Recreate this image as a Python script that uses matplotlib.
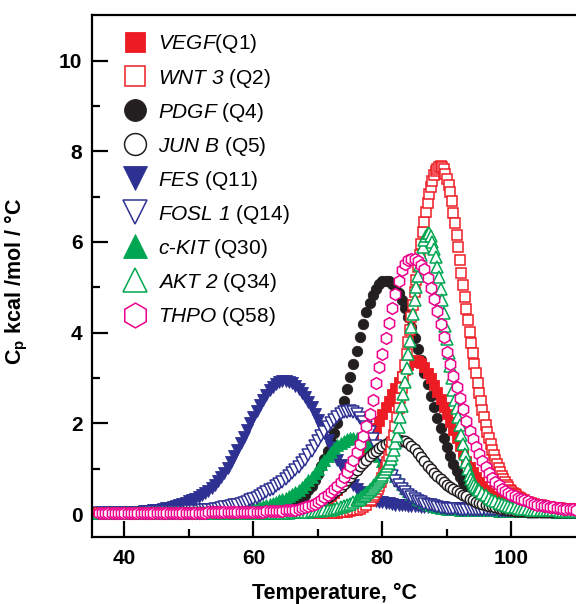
import numpy as np
import matplotlib.pyplot as plt
from matplotlib.ticker import FixedLocator

plt.rcParams['font.family'] = 'Liberation Sans'
plt.rcParams['mathtext.fontset'] = 'custom'
# gene names are set in italics incl. their digits, so rm maps to the italic face
plt.rcParams['mathtext.rm'] = 'Liberation Sans:italic'
plt.rcParams['mathtext.it'] = 'Liberation Sans:italic'
plt.rcParams['mathtext.bf'] = 'Liberation Sans:bold'

# temperature grid of the DSC scans (deg C), 0.5 deg steps 36 .. 110
temp = np.arange(36.0, 110.01, 0.5)
# WNT 3 and AKT 2 melt sharply and were sampled twice as fine around the peak,
# these are the extra in-between temperatures
wnt3_temp_mid = np.arange(78.25, 101.76, 0.5)
akt2_temp_mid = np.arange(76.25, 94.76, 0.5)

# Cp (kcal/mol/C), one row = 5 deg
vegf = [
    0.03, 0.03, 0.03, 0.03, 0.03, 0.03, 0.03, 0.03, 0.03, 0.03,
    0.03, 0.03, 0.03, 0.03, 0.03, 0.03, 0.03, 0.03, 0.03, 0.03,
    0.03, 0.03, 0.03, 0.03, 0.03, 0.03, 0.03, 0.03, 0.03, 0.03,
    0.03, 0.03, 0.03, 0.03, 0.03, 0.03, 0.03, 0.03, 0.03, 0.03,
    0.03, 0.03, 0.03, 0.03, 0.03, 0.04, 0.04, 0.04, 0.04, 0.04,
    0.04, 0.04, 0.04, 0.04, 0.04, 0.05, 0.05, 0.05, 0.05, 0.06,
    0.06, 0.07, 0.08, 0.09, 0.11, 0.13, 0.15, 0.18, 0.21, 0.25,
    0.29, 0.34, 0.40, 0.47, 0.54, 0.62, 0.70, 0.79, 0.88, 0.98,
    1.08, 1.20, 1.32, 1.47, 1.62, 1.76, 1.90, 2.05, 2.20, 2.35,
    2.50, 2.64, 2.78, 2.92, 3.05, 3.17, 3.28, 3.36, 3.40, 3.38,
    3.33, 3.24, 3.12, 2.99, 2.85, 2.70, 2.53, 2.37, 2.20, 2.03,
    1.85, 1.67, 1.50, 1.34, 1.18, 1.04, 0.92, 0.81, 0.70, 0.61,
    0.53, 0.46, 0.40, 0.35, 0.30, 0.26, 0.22, 0.19, 0.16, 0.14,
    0.12, 0.10, 0.09, 0.08, 0.07, 0.07, 0.06, 0.06, 0.05, 0.05,
    0.05, 0.05, 0.05, 0.05, 0.05, 0.05, 0.05, 0.05, 0.05]

wnt3 = [
    0.03, 0.03, 0.03, 0.03, 0.03, 0.03, 0.03, 0.03, 0.03, 0.03,
    0.03, 0.03, 0.03, 0.03, 0.03, 0.03, 0.03, 0.03, 0.03, 0.03,
    0.03, 0.03, 0.03, 0.03, 0.03, 0.03, 0.03, 0.03, 0.03, 0.03,
    0.03, 0.03, 0.03, 0.03, 0.03, 0.03, 0.03, 0.03, 0.03, 0.03,
    0.03, 0.03, 0.03, 0.03, 0.03, 0.03, 0.03, 0.03, 0.03, 0.03,
    0.03, 0.03, 0.03, 0.03, 0.03, 0.03, 0.03, 0.03, 0.03, 0.03,
    0.03, 0.03, 0.03, 0.03, 0.03, 0.03, 0.03, 0.03, 0.03, 0.03,
    0.03, 0.03, 0.03, 0.03, 0.03, 0.04, 0.04, 0.05, 0.06, 0.08,
    0.09, 0.12, 0.16, 0.21, 0.28, 0.37, 0.48, 0.62, 0.80, 1.02,
    1.28, 1.58, 1.94, 2.34, 2.79, 3.28, 3.80, 4.34, 4.89, 5.44,
    5.96, 6.44, 6.86, 7.21, 7.47, 7.62, 7.68, 7.60, 7.40, 7.10,
    6.65, 6.15, 5.60, 5.05, 4.52, 4.02, 3.55, 3.10, 2.68, 2.30,
    1.96, 1.67, 1.42, 1.20, 1.01, 0.84, 0.70, 0.59, 0.50, 0.44,
    0.38, 0.34, 0.30, 0.27, 0.24, 0.22, 0.20, 0.19, 0.17, 0.16,
    0.15, 0.14, 0.13, 0.13, 0.12, 0.12, 0.11, 0.11, 0.10]
wnt3_mid = [
    0.32, 0.42, 0.55, 0.70, 0.90, 1.14, 1.42, 1.75, 2.13, 2.56,
    3.03, 3.54, 4.07, 4.62, 5.17, 5.71, 6.21, 6.66, 7.05, 7.35,
    7.56, 7.66, 7.65, 7.50, 7.25, 6.90, 6.41, 5.88, 5.32, 4.78,
    4.27, 3.78, 3.32, 2.89, 2.49, 2.13, 1.81, 1.54, 1.31, 1.10,
    0.92, 0.77, 0.64, 0.54, 0.47, 0.41, 0.36, 0.32]

pdgf = [
    0.03, 0.03, 0.03, 0.03, 0.03, 0.03, 0.03, 0.03, 0.03, 0.03,
    0.03, 0.03, 0.03, 0.03, 0.03, 0.03, 0.03, 0.03, 0.03, 0.03,
    0.03, 0.03, 0.03, 0.03, 0.03, 0.03, 0.03, 0.03, 0.03, 0.03,
    0.03, 0.03, 0.03, 0.03, 0.03, 0.03, 0.03, 0.03, 0.03, 0.03,
    0.03, 0.03, 0.03, 0.03, 0.03, 0.03, 0.03, 0.03, 0.03, 0.03,
    0.03, 0.03, 0.03, 0.04, 0.05, 0.06, 0.07, 0.09, 0.11, 0.14,
    0.18, 0.23, 0.28, 0.35, 0.43, 0.52, 0.62, 0.75, 0.89, 1.05,
    1.22, 1.40, 1.58, 1.78, 2.00, 2.24, 2.49, 2.75, 3.02, 3.30,
    3.60, 3.90, 4.20, 4.46, 4.66, 4.83, 4.97, 5.07, 5.13, 5.15,
    5.13, 5.08, 5.00, 4.88, 4.73, 4.55, 4.34, 4.12, 3.89, 3.65,
    3.40, 3.12, 2.86, 2.60, 2.36, 2.12, 1.89, 1.68, 1.47, 1.28,
    1.11, 0.96, 0.82, 0.70, 0.62, 0.53, 0.46, 0.39, 0.34, 0.29,
    0.25, 0.22, 0.19, 0.17, 0.15, 0.13, 0.12, 0.11, 0.10, 0.09,
    0.08, 0.08, 0.07, 0.07, 0.06, 0.06, 0.06, 0.05, 0.05, 0.05,
    0.05, 0.05, 0.05, 0.05, 0.05, 0.05, 0.05, 0.05, 0.05]

junb = [
    0.03, 0.03, 0.03, 0.03, 0.03, 0.03, 0.03, 0.03, 0.03, 0.03,
    0.03, 0.03, 0.03, 0.03, 0.03, 0.03, 0.03, 0.03, 0.03, 0.03,
    0.03, 0.03, 0.03, 0.03, 0.03, 0.03, 0.03, 0.03, 0.03, 0.03,
    0.03, 0.03, 0.03, 0.03, 0.03, 0.03, 0.03, 0.03, 0.03, 0.03,
    0.03, 0.03, 0.03, 0.03, 0.03, 0.03, 0.03, 0.03, 0.03, 0.03,
    0.03, 0.03, 0.03, 0.03, 0.03, 0.03, 0.03, 0.04, 0.05, 0.05,
    0.06, 0.07, 0.09, 0.11, 0.13, 0.15, 0.18, 0.21, 0.24, 0.28,
    0.32, 0.37, 0.42, 0.48, 0.54, 0.60, 0.67, 0.75, 0.82, 0.90,
    0.97, 1.05, 1.13, 1.20, 1.27, 1.34, 1.40, 1.46, 1.51, 1.55,
    1.59, 1.61, 1.63, 1.63, 1.62, 1.60, 1.56, 1.50, 1.43, 1.35,
    1.26, 1.16, 1.07, 0.99, 0.91, 0.84, 0.77, 0.71, 0.65, 0.60,
    0.55, 0.51, 0.47, 0.43, 0.39, 0.34, 0.30, 0.27, 0.24, 0.22,
    0.20, 0.18, 0.17, 0.16, 0.14, 0.12, 0.11, 0.09, 0.08, 0.07,
    0.07, 0.06, 0.06, 0.05, 0.05, 0.05, 0.05, 0.05, 0.04, 0.04,
    0.04, 0.04, 0.04, 0.04, 0.04, 0.04, 0.04, 0.04, 0.04]

fes = [
    0.03, 0.03, 0.03, 0.03, 0.03, 0.03, 0.03, 0.03, 0.03, 0.03,
    0.04, 0.04, 0.05, 0.05, 0.06, 0.06, 0.07, 0.08, 0.09, 0.10,
    0.11, 0.13, 0.14, 0.16, 0.18, 0.20, 0.22, 0.25, 0.28, 0.31,
    0.34, 0.38, 0.42, 0.46, 0.51, 0.57, 0.64, 0.72, 0.81, 0.91,
    1.02, 1.14, 1.27, 1.41, 1.56, 1.70, 1.85, 2.00, 2.14, 2.28,
    2.41, 2.52, 2.63, 2.73, 2.81, 2.87, 2.91, 2.93, 2.93, 2.91,
    2.88, 2.83, 2.76, 2.68, 2.58, 2.47, 2.35, 2.21, 2.07, 1.93,
    1.78, 1.63, 1.48, 1.34, 1.20, 1.08, 0.95, 0.84, 0.73, 0.64,
    0.56, 0.49, 0.43, 0.38, 0.34, 0.31, 0.29, 0.27, 0.26, 0.25,
    0.24, 0.23, 0.21, 0.20, 0.19, 0.19, 0.18, 0.18, 0.17, 0.17,
    0.16, 0.16, 0.16, 0.15, 0.15, 0.15, 0.15, 0.14, 0.14, 0.14,
    0.14, 0.14, 0.13, 0.13, 0.13, 0.13, 0.13, 0.12, 0.12, 0.12,
    0.12, 0.12, 0.12, 0.12, 0.11, 0.11, 0.11, 0.11, 0.11, 0.11,
    0.11, 0.10, 0.10, 0.10, 0.10, 0.10, 0.10, 0.10, 0.10, 0.10,
    0.10, 0.10, 0.09, 0.09, 0.09, 0.09, 0.09, 0.09, 0.09]

fosl1 = [
    0.03, 0.03, 0.03, 0.03, 0.03, 0.03, 0.03, 0.03, 0.03, 0.03,
    0.03, 0.03, 0.03, 0.03, 0.03, 0.03, 0.04, 0.04, 0.04, 0.04,
    0.04, 0.04, 0.045, 0.045, 0.05, 0.05, 0.055, 0.055, 0.06, 0.065,
    0.07, 0.075, 0.08, 0.085, 0.09, 0.10, 0.11, 0.12, 0.13, 0.145,
    0.16, 0.175, 0.19, 0.21, 0.23, 0.25, 0.27, 0.30, 0.33, 0.36,
    0.40, 0.44, 0.48, 0.52, 0.56, 0.61, 0.66, 0.71, 0.77, 0.83,
    0.90, 0.97, 1.04, 1.12, 1.20, 1.30, 1.40, 1.50, 1.61, 1.72,
    1.82, 1.91, 2.00, 2.08, 2.15, 2.20, 2.24, 2.26, 2.27, 2.25,
    2.20, 2.12, 2.03, 1.92, 1.80, 1.66, 1.51, 1.36, 1.21, 1.07,
    0.94, 0.83, 0.72, 0.63, 0.55, 0.48, 0.42, 0.37, 0.33, 0.29,
    0.26, 0.23, 0.21, 0.19, 0.17, 0.155, 0.14, 0.13, 0.12, 0.115,
    0.11, 0.105, 0.10, 0.10, 0.10, 0.095, 0.09, 0.09, 0.085, 0.085,
    0.08, 0.08, 0.08, 0.08, 0.075, 0.075, 0.075, 0.07, 0.07, 0.07,
    0.07, 0.07, 0.065, 0.065, 0.065, 0.065, 0.06, 0.06, 0.06, 0.06,
    0.06, 0.06, 0.055, 0.055, 0.055, 0.05, 0.05, 0.05, 0.05]

ckit = [
    0.03, 0.03, 0.03, 0.03, 0.03, 0.03, 0.03, 0.03, 0.03, 0.03,
    0.03, 0.03, 0.03, 0.03, 0.03, 0.03, 0.03, 0.03, 0.03, 0.03,
    0.03, 0.03, 0.03, 0.03, 0.035, 0.035, 0.035, 0.035, 0.035, 0.035,
    0.04, 0.04, 0.04, 0.04, 0.045, 0.045, 0.05, 0.05, 0.055, 0.055,
    0.06, 0.065, 0.07, 0.08, 0.09, 0.10, 0.11, 0.12, 0.13, 0.145,
    0.16, 0.18, 0.20, 0.22, 0.25, 0.27, 0.30, 0.33, 0.36, 0.40,
    0.44, 0.48, 0.54, 0.60, 0.67, 0.74, 0.82, 0.90, 1.00, 1.10,
    1.19, 1.28, 1.37, 1.45, 1.52, 1.57, 1.61, 1.65, 1.67, 1.68,
    1.68, 1.67, 1.63, 1.57, 1.50, 1.42, 1.35, 1.27, 1.18, 1.09,
    1.00, 0.92, 0.84, 0.75, 0.66, 0.58, 0.50, 0.44, 0.39, 0.34,
    0.30, 0.26, 0.23, 0.20, 0.18, 0.16, 0.14, 0.13, 0.12, 0.115,
    0.11, 0.105, 0.10, 0.095, 0.09, 0.09, 0.09, 0.09, 0.085, 0.085,
    0.08, 0.08, 0.08, 0.08, 0.075, 0.075, 0.075, 0.075, 0.07, 0.07,
    0.07, 0.07, 0.065, 0.065, 0.065, 0.065, 0.06, 0.06, 0.06, 0.06,
    0.06, 0.06, 0.055, 0.055, 0.055, 0.05, 0.05, 0.05, 0.05]

akt2 = [
    0.03, 0.03, 0.03, 0.03, 0.03, 0.03, 0.03, 0.03, 0.03, 0.03,
    0.03, 0.03, 0.03, 0.03, 0.03, 0.03, 0.03, 0.03, 0.03, 0.03,
    0.03, 0.03, 0.03, 0.03, 0.03, 0.03, 0.03, 0.03, 0.03, 0.03,
    0.03, 0.03, 0.03, 0.03, 0.03, 0.03, 0.03, 0.03, 0.03, 0.03,
    0.03, 0.03, 0.03, 0.03, 0.03, 0.03, 0.03, 0.03, 0.03, 0.03,
    0.03, 0.03, 0.03, 0.03, 0.03, 0.03, 0.03, 0.03, 0.03, 0.03,
    0.04, 0.04, 0.04, 0.04, 0.05, 0.05, 0.06, 0.06, 0.07, 0.07,
    0.08, 0.09, 0.10, 0.11, 0.13, 0.15, 0.17, 0.20, 0.23, 0.26,
    0.30, 0.34, 0.40, 0.46, 0.52, 0.60, 0.68, 0.77, 0.87, 0.99,
    1.13, 1.30, 1.56, 1.92, 2.38, 2.92, 3.52, 4.12, 4.72, 5.26,
    5.72, 6.04, 6.20, 6.13, 5.85, 5.45, 4.97, 4.44, 3.86, 3.27,
    2.74, 2.34, 1.96, 1.54, 1.14, 0.87, 0.71, 0.60, 0.52, 0.46,
    0.41, 0.36, 0.32, 0.28, 0.25, 0.22, 0.20, 0.18, 0.16, 0.15,
    0.13, 0.12, 0.11, 0.11, 0.10, 0.10, 0.09, 0.09, 0.08, 0.08,
    0.08, 0.08, 0.08, 0.07, 0.07, 0.07, 0.07, 0.07, 0.07]
akt2_mid = [
    0.32, 0.37, 0.43, 0.49, 0.56, 0.64, 0.72, 0.82, 0.93, 1.06,
    1.21, 1.42, 1.72, 2.14, 2.64, 3.22, 3.82, 4.42, 5.00, 5.50,
    5.90, 6.14, 6.19, 6.01, 5.66, 5.22, 4.71, 4.15, 3.56, 3.00,
    2.52, 2.15, 1.75, 1.33, 0.99, 0.78, 0.65, 0.56]

thpo = [
    0.03, 0.03, 0.03, 0.03, 0.03, 0.03, 0.03, 0.03, 0.03, 0.03,
    0.03, 0.03, 0.03, 0.03, 0.03, 0.03, 0.03, 0.03, 0.03, 0.03,
    0.03, 0.03, 0.03, 0.03, 0.03, 0.03, 0.03, 0.03, 0.03, 0.03,
    0.03, 0.03, 0.03, 0.03, 0.04, 0.04, 0.04, 0.04, 0.04, 0.04,
    0.04, 0.04, 0.04, 0.04, 0.04, 0.05, 0.05, 0.05, 0.05, 0.05,
    0.05, 0.05, 0.06, 0.06, 0.06, 0.07, 0.07, 0.07, 0.08, 0.08,
    0.09, 0.10, 0.11, 0.13, 0.15, 0.17, 0.20, 0.23, 0.27, 0.32,
    0.37, 0.42, 0.48, 0.55, 0.62, 0.71, 0.81, 0.92, 1.05, 1.19,
    1.36, 1.54, 1.72, 1.95, 2.20, 2.52, 2.88, 3.24, 3.52, 3.88,
    4.22, 4.55, 4.85, 5.15, 5.38, 5.52, 5.60, 5.63, 5.62, 5.58,
    5.50, 5.40, 5.20, 4.98, 4.75, 4.48, 4.20, 3.90, 3.58, 3.30,
    3.05, 2.80, 2.56, 2.32, 2.06, 1.84, 1.65, 1.48, 1.32, 1.17,
    1.03, 0.91, 0.80, 0.71, 0.63, 0.56, 0.51, 0.47, 0.43, 0.39,
    0.36, 0.33, 0.30, 0.28, 0.25, 0.23, 0.21, 0.20, 0.18, 0.17,
    0.16, 0.15, 0.14, 0.13, 0.12, 0.12, 0.11, 0.11, 0.10]

labels = [r'$\mathrm{VEGF}$(Q1)', r'$\mathrm{WNT\ 3}$ (Q2)', r'$\mathrm{PDGF}$ (Q4)',
          r'$\mathrm{JUN\ B}$ (Q5)', r'$\mathrm{FES}$ (Q11)', r'$\mathrm{FOSL\ 1}$ (Q14)',
          r'$\mathrm{c}$-$\mathrm{KIT}$ (Q30)', r'$\mathrm{AKT\ 2}$ (Q34)',
          r'$\mathrm{THPO}$ (Q58)']

red = '#ed1c24'
black = '#231f20'
navy = '#2e3192'
green = '#00a651'
magenta = '#ec008c'


def merge(t1, c1, t2, c2):
    t = np.concatenate([t1, t2])
    c = np.concatenate([c1, c2])
    order = np.argsort(t)
    return t[order], c[order]


def filled(color, marker, ms):
    return dict(marker=marker, ms=ms, mfc=color, mec=color, mew=0.6, ls='none')


def hollow(color, marker, ms):
    return dict(marker=marker, ms=ms, mfc='white', mec=color, mew=1.1, ls='none')


for c in [vegf, wnt3, pdgf, junb, fes, fosl1, ckit, akt2, thpo]:
    assert len(c) == len(temp), len(c)

fig = plt.figure(figsize=(5.76, 6.04), dpi=100)
ax = fig.add_axes([0.160, 0.1114, 0.840, 0.8633])

wt, wc = merge(temp, wnt3, wnt3_temp_mid, wnt3_mid)
at, ac = merge(temp, akt2, akt2_temp_mid, akt2_mid)

# drawing order picked so the overlaps look like the original
h = {}
h['pdgf'], = ax.plot(temp, pdgf, **filled(black, 'o', 7.5))
h['fes'], = ax.plot(temp, fes, **filled(navy, 'v', 8))
h['vegf'], = ax.plot(temp, vegf, **filled(red, 's', 7))
h['ckit'], = ax.plot(temp, ckit, **filled(green, '^', 8))
h['fosl1'], = ax.plot(temp, fosl1, **hollow(navy, 'v', 8))
h['junb'], = ax.plot(temp, junb, **hollow(black, 'o', 7.5))
h['wnt3'], = ax.plot(wt, wc, **hollow(red, 's', 7))
h['akt2'], = ax.plot(at, ac, **hollow(green, '^', 8))
h['thpo'], = ax.plot(temp, thpo, **hollow(magenta, 'h', 8.5))

order = ['vegf', 'wnt3', 'pdgf', 'junb', 'fes', 'fosl1', 'ckit', 'akt2', 'thpo']
ax.legend([h[k] for k in order], labels, loc='upper left',
          bbox_to_anchor=(0.067, 0.967), frameon=False, numpoints=1,
          markerscale=2.1, fontsize=15, labelspacing=0.53, handlelength=1.0,
          handletextpad=0.6, borderpad=0, borderaxespad=0)

ax.set_xlim(35, 110)
ax.set_ylim(-0.5, 11)
ax.set_xticks([40, 60, 80, 100])
ax.set_yticks([0, 2, 4, 6, 8, 10])
ax.xaxis.set_minor_locator(FixedLocator([50, 70, 90]))
ax.yaxis.set_minor_locator(FixedLocator([1, 3, 5, 7, 9]))
ax.tick_params(which='both', direction='in', width=1.6, labelsize=15)
ax.tick_params(which='major', length=11.5)
ax.tick_params(which='minor', length=6)
ax.tick_params(axis='x', pad=9)
ax.tick_params(axis='y', pad=7)
for lab in ax.get_xticklabels() + ax.get_yticklabels():
    lab.set_fontweight('bold')

for s in ['left', 'bottom', 'top']:
    ax.spines[s].set_linewidth(1.6)
ax.spines['right'].set_visible(False)

ax.set_xlabel('Temperature, \u00b0C', fontsize=15.5, fontweight='bold')
ax.set_ylabel(r'$\mathbf{C_p}$ kcal /mol / ' + '\u00b0C',
              fontsize=15.5, fontweight='bold')
ax.yaxis.set_label_coords(-0.129, 0.489)
ax.xaxis.set_label_coords(0.5, -0.088)

fig.savefig('out.png', dpi=100)
